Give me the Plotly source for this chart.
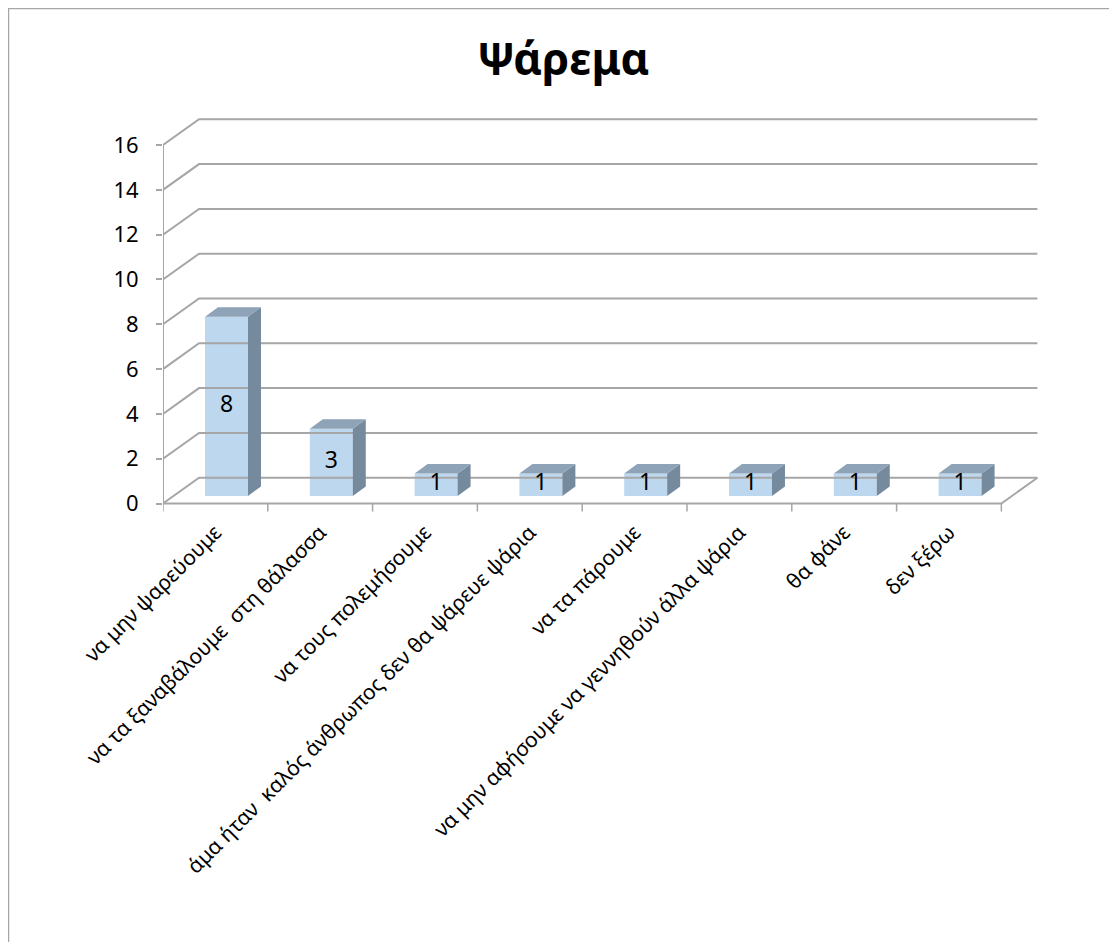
import plotly.graph_objects as go
import numpy as np

categories = [
    "να μην ψαρεύουμε",
    "να τα ξαναβάλουμε  στη θάλασσα",
    "να τους πολεμήσουμε",
    "άμα ήταν  καλός άνθρωπος δεν θα ψάρευε ψάρια",
    "να τα πάρουμε",
    "να μην αφήσουμε να γεννηθούν άλλα ψάρια",
    "θα φάνε",
    "δεν ξέρω",
]
counts = [8, 3, 1, 1, 1, 1, 1, 1]
y_ticks = [0, 2, 4, 6, 8, 10, 12, 14, 16]

FONT = "Noto Sans"
GRID = "#a6a6a6"
FRONT = "#bdd7ee"
TOP = "#8ea3b8"
SIDE = "#768a9e"

# pseudo 3d geometry, in axis units
WALL_DX, WALL_DY = 0.344, 1.15
BAR_SHIFT, BAR_W, BAR_BASE = 0.106, 0.41, 0.34
DEPTH_DX, DEPTH_DY = 0.124, 0.42

n = len(categories)
x = np.arange(n)
vals = np.array(counts, dtype=float)

fig = go.Figure()

# back wall gridlines with the left wall diagonals
gx, gy = [], []
for v in y_ticks:
    gx += [-0.5, -0.5 + WALL_DX, n - 0.5 + WALL_DX, None]
    gy += [v, v + WALL_DY, v + WALL_DY, None]
fig.add_trace(go.Scatter(x=gx, y=gy, mode="lines",
                         line=dict(color=GRID, width=2), hoverinfo="skip"))

# floor front edge + right diagonal, y axis line
fig.add_trace(go.Scatter(x=[-0.5, n - 0.5, n - 0.5 + WALL_DX], y=[0, 0, WALL_DY],
                         mode="lines", line=dict(color=GRID, width=2), hoverinfo="skip"))
fig.add_trace(go.Scatter(x=[-0.5, -0.5], y=[0, y_ticks[-1]], mode="lines",
                         line=dict(color=GRID, width=2), hoverinfo="skip"))

# category boundary ticks
bx, by = [], []
for b in np.arange(-0.5, n, 1.0):
    bx += [b, b, None]
    by += [0, -0.36, None]
fig.add_trace(go.Scatter(x=bx, y=by, mode="lines",
                         line=dict(color=GRID, width=1.5), hoverinfo="skip"))

# bar front faces
fig.add_trace(go.Bar(
    x=x + BAR_SHIFT, y=vals, base=BAR_BASE, width=BAR_W,
    marker=dict(color=FRONT, line=dict(width=0)), hoverinfo="skip",
))

# side and top faces
xl = x + BAR_SHIFT - BAR_W / 2
xr = x + BAR_SHIFT + BAR_W / 2
top = vals + BAR_BASE
sx, sy, tx, ty = [], [], [], []
for i in range(n):
    sx += [xr[i], xr[i] + DEPTH_DX, xr[i] + DEPTH_DX, xr[i], None]
    sy += [BAR_BASE, BAR_BASE + DEPTH_DY, top[i] + DEPTH_DY, top[i], None]
    tx += [xl[i], xl[i] + DEPTH_DX, xr[i] + DEPTH_DX, xr[i], None]
    ty += [top[i], top[i] + DEPTH_DY, top[i] + DEPTH_DY, top[i], None]
fig.add_trace(go.Scatter(x=sx, y=sy, mode="lines", fill="toself", fillcolor=SIDE,
                         line=dict(width=0, color=SIDE), hoverinfo="skip"))
fig.add_trace(go.Scatter(x=tx, y=ty, mode="lines", fill="toself", fillcolor=TOP,
                         line=dict(width=0, color=TOP), hoverinfo="skip"))

# value labels, centred on the front faces
fig.add_trace(go.Scatter(
    x=x + BAR_SHIFT, y=BAR_BASE + vals / 2, mode="text",
    text=[str(c) for c in counts], textposition="middle center",
    textfont=dict(family=FONT, size=23, color="black"), hoverinfo="skip",
))

fig.update_layout(
    width=1117, height=942,
    margin=dict(l=155, r=75, t=92, b=435),
    paper_bgcolor="white", plot_bgcolor="white",
    showlegend=False,
    font=dict(family=FONT, color="black"),
    title=dict(text="<b>Ψάρεμα</b>", x=0.451, xref="paper", y=0.945, yanchor="middle",
               xanchor="center", font=dict(family=FONT, size=44, color="black")),
    xaxis=dict(range=[-0.5, 7.964], tickvals=list(x), ticktext=categories,
               tickangle=-45, ticks="", showgrid=False, zeroline=False,
               showline=False, tickfont=dict(size=21)),
    yaxis=dict(range=[-0.513, 18.01], tickvals=y_ticks, ticks="outside",
               ticklen=6, tickcolor=GRID, tickwidth=1.5, showgrid=False,
               zeroline=False, showline=False, tickfont=dict(size=22),
               ticklabelstandoff=13),
    shapes=[dict(type="rect", xref="paper", yref="paper",
                 x0=-0.1742, x1=1.1, y0=-1.1, y1=1.2205,
                 line=dict(color=GRID, width=1.5), fillcolor="rgba(0,0,0,0)")],
)

fig.write_html("out.html")
